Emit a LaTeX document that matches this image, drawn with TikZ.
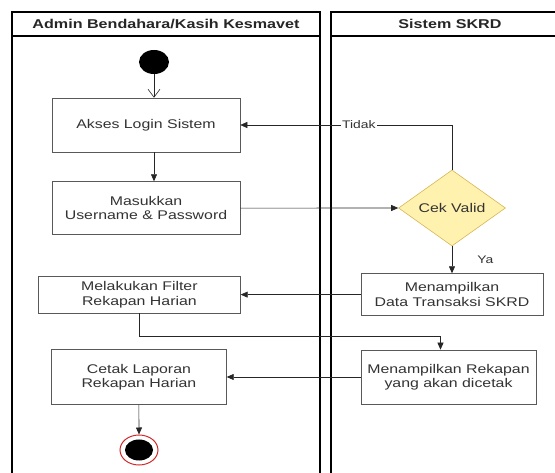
\documentclass[tikz,border=0pt]{standalone}
\usepackage{fontspec}
\setmainfont{Liberation Sans}[FakeStretch=1.26]
\usetikzlibrary{arrows.meta,positioning,shapes.geometric,calc}
\definecolor{decisionline}{RGB}{214,182,86}
\definecolor{decisionfill}{RGB}{255,242,175}
\definecolor{finishring}{RGB}{210,40,40}

\begin{document}
\begin{tikzpicture}[x=1pt, y=-1pt, ->, >={Triangle[length=7pt,width=6pt]}, semithick, draw=black!85, text=black!80, node distance=30pt, font=\fontsize{12.6}{14.5}\selectfont]
	\tikzstyle{lane}=[draw=black, line width=1.2pt, -]
	\tikzstyle{lanetitle}=[font=\bfseries\fontsize{12.8}{14}\selectfont, text=black!85]
	\tikzstyle{activity}=[rectangle, draw=black!65, fill=white, align=center, inner sep=2pt]
	\tikzstyle{decision}=[diamond, draw=decisionline, fill=decisionfill, minimum width=107pt, minimum height=59pt, inner sep=0pt]
	\tikzstyle{guard}=[font=\fontsize{11}{13}\selectfont, fill=white, inner sep=1pt]

	\useasboundingbox (0,0) rectangle (555,473);
	% swimlanes
	\draw[lane] (12,473) -- (12,12) -- (320,12) -- (320,473);
	\draw[lane] (555,12) -- (331,12) -- (331,473);
	\draw[lane] (12,36) -- (320,36);
	\draw[lane] (331,36) -- (555,36);
	\node[lanetitle] (laneadmin) at (166,24) {Admin Bendahara/Kasih Kesmavet};
	\node[lanetitle] (lanesistem) at (450,24) {Sistem SKRD};

	% activities
	\node[ellipse, fill=black, minimum width=30pt, minimum height=24pt, inner sep=0pt] (start) at (154,62) {};
	\node[activity, minimum width=188pt, minimum height=54pt] (akses) at (146,125) {Akses Login Sistem};
	\node[activity, minimum width=188pt, minimum height=53pt, below=29pt of akses] (masukkan) {Masukkan\\Username \& Password};
	\node[decision] (cek) at (452,208) {Cek Valid};
	\node[activity, minimum width=182pt, minimum height=42pt, below=27pt of cek] (tampildata) {Menampilkan\\Data Transaksi SKRD};
	\node[activity, minimum width=202pt, minimum height=37pt, left=120pt of tampildata] (filter) {Melakukan Filter\\Rekapan Harian};
	\node[activity, minimum width=175pt, minimum height=54pt] (tampilrekap) at (448.5,377) {Menampilkan Rekapan\\yang akan dicetak};
	\node[activity, minimum width=175pt, minimum height=55pt, left=134pt of tampilrekap] (cetak) {Cetak Laporan\\Rekapan Harian};
	\node[ellipse, draw=finishring, line width=1pt, fill=white, minimum width=38pt, minimum height=30pt, inner sep=0pt] (finish) at (139,450) {};
	\node[ellipse, fill=black, minimum width=28pt, minimum height=21pt, inner sep=0pt] (finishdot) at (finish.center) {};

	% flows
	\draw[-{Straight Barb[length=8pt,width=12pt]}] (start) -- (start |- akses.north);
	\draw (start |- akses.south) -- (start |- masukkan.north);
	\draw (masukkan.east) -- (cek.west);
	\draw (cek.north) |- (akses.east) node[guard, pos=0.72] (tidak) {Tidak};
	\draw (cek.south) -- (cek.south |- tampildata.north) node[guard, fill=none, midway, right=24pt] (ya) {Ya};
	\draw (tampildata.west) -- (filter.east);
	\draw (filter.south) -- ++(0,23) -| ([xshift=-8pt]tampilrekap.north);
	\draw (tampilrekap.west) -- (cetak.east);
	\draw (cetak.south) -- (finish.north);
\end{tikzpicture}
\end{document}
